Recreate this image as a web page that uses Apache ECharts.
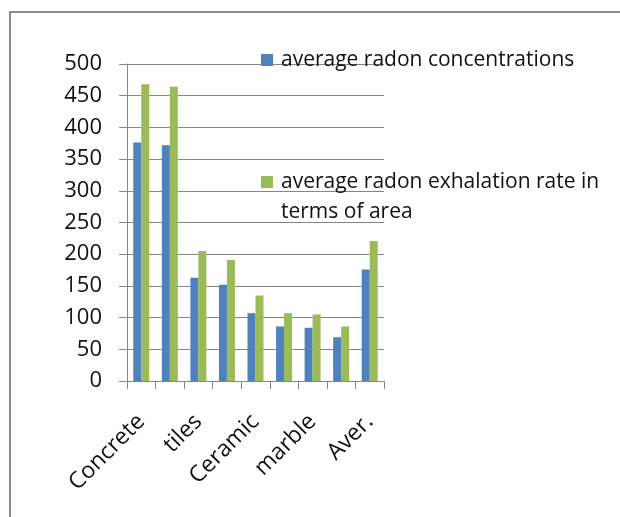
<!DOCTYPE html>
<html>
<head>
<meta charset="utf-8">
<script src="https://cdn.jsdelivr.net/npm/echarts@6/dist/echarts.min.js"></script>
<style>
  html, body { margin: 0; padding: 0; background: #fff; }
  #chart { width: 620px; height: 517px; }
</style>
</head>
<body>
<div id="chart"></div>
<script>
// Building materials (every other name is shown on the axis)
const categories = ['Concrete', 'Brick', 'tiles', 'Cement', 'Ceramic', 'Granite', 'marble', 'Gypsum', 'Aver.'];
const seriesNames = ['average radon concentrations', 'average radon exhalation rate in terms of area'];
const radonConcentration = [376, 372, 163, 152, 107, 86, 84, 69, 176];
const exhalationRate = [468, 464, 205, 191, 135, 107, 105, 86, 221];
const yTicks = { min: 0, max: 500, step: 50 };

const FONT = '"Open Sans", "Liberation Sans", sans-serif';
const AXIS_GRAY = '#868686';

const chart = echarts.init(document.getElementById('chart'), null, { renderer: 'canvas' });

chart.setOption({
  backgroundColor: '#ffffff',
  animation: false,
  grid: { left: 127, right: 236, top: 64, bottom: 136, containLabel: false },
  legend: [
    {
      data: [seriesNames[0]],
      left: 261, top: 47, padding: 0,
      itemWidth: 12, itemHeight: 12,
      icon: 'rect',
      textStyle: { fontFamily: FONT, fontSize: 21, lineHeight: 26, color: '#111', padding: [0, 0, 0, 3] }
    },
    {
      data: [seriesNames[1]],
      left: 261, top: 137, padding: 0,
      itemWidth: 12, itemHeight: 12,
      icon: 'rect',
      // leading blank line keeps the marker level with the first text line
      formatter: () => '\naverage radon exhalation rate in\nterms of area',
      textStyle: { fontFamily: FONT, fontSize: 21, color: '#111', lineHeight: 30, padding: [0, 0, 0, 3] }
    }
  ],
  xAxis: {
    type: 'category',
    data: categories,
    axisLine: { lineStyle: { color: AXIS_GRAY, width: 1 } },
    axisTick: { show: true, length: 8, alignWithLabel: false, interval: 0, lineStyle: { color: AXIS_GRAY } },
    axisLabel: {
      interval: 1,
      rotate: 45,
      margin: 37,
      fontFamily: FONT,
      fontSize: 23,
      color: '#111'
    }
  },
  yAxis: {
    type: 'value',
    min: yTicks.min, max: yTicks.max, interval: yTicks.step,
    axisLine: { show: true, lineStyle: { color: AXIS_GRAY, width: 1 } },
    axisTick: { show: true, length: 8, lineStyle: { color: AXIS_GRAY } },
    axisLabel: { margin: 25, fontFamily: FONT, fontSize: 22, color: '#111' },
    splitLine: { lineStyle: { color: AXIS_GRAY, width: 1 } }
  },
  series: [
    {
      name: seriesNames[0], type: 'bar', data: radonConcentration,
      itemStyle: { color: '#4F81BD' },
      barGap: '0%', barCategoryGap: '44%'
    },
    {
      name: seriesNames[1], type: 'bar', data: exhalationRate,
      itemStyle: { color: '#9BBB59' },
      barGap: '0%', barCategoryGap: '44%'
    }
  ],
  graphic: [
    {
      type: 'polyline',
      shape: { points: [[10, 517], [10, 12], [620, 12]] },
      style: { stroke: '#8c8c8c', lineWidth: 2, fill: null }
    }
  ]
});
</script>
</body>
</html>
